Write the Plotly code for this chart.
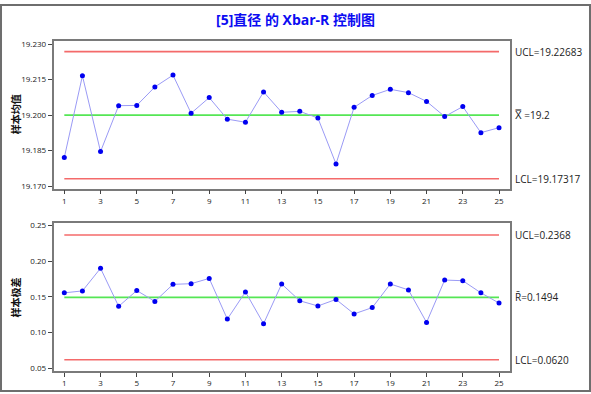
import plotly.graph_objects as go

# ---- data ----
samples = list(range(1, 26))
xbar_values = [19.1821, 19.2166, 19.1846, 19.2040, 19.2041, 19.2119, 19.2169, 19.2008,
               19.2074, 19.1983, 19.1970, 19.2098, 19.2012, 19.2016, 19.1988, 19.1794,
               19.2033, 19.2083, 19.2109, 19.2095, 19.2058, 19.1994, 19.2036, 19.1926,
               19.1947]
range_values = [0.1558, 0.1585, 0.1902, 0.1369, 0.1590, 0.1438, 0.1677, 0.1686,
                0.1760, 0.1190, 0.1571, 0.1125, 0.1682, 0.1447, 0.1374, 0.1466,
                0.1263, 0.1351, 0.1682, 0.1599, 0.1144, 0.1737, 0.1728, 0.1558,
                0.1415]
xbar_limits = {"UCL": 19.22683, "CL": 19.2, "LCL": 19.17317}
range_limits = {"UCL": 0.2368, "CL": 0.1494, "LCL": 0.0620}
x_ticks = list(range(1, 26, 2))
xbar_yticks = [19.170, 19.185, 19.200, 19.215, 19.230]
range_yticks = [0.05, 0.10, 0.15, 0.20, 0.25]
title_text = "[5]直径 的 Xbar-R 控制图"

W, H = 591, 394
FONT = "Open Sans, Noto Sans CJK SC, sans-serif"
RED = "#F46A6A"
GREEN = "#55E655"
LINE_BLUE = "#9A9AF5"
DOT_BLUE = "#0000F0"
FRAME = "#7A7A7A"

fig = go.Figure()

def add_chart(values, limits, xa, ya):
    x0, x1 = samples[0], samples[-1]
    fig.add_trace(go.Scatter(x=[x0, x1], y=[limits["UCL"]] * 2, mode="lines",
                             line=dict(color=RED, width=1.6), xaxis=xa, yaxis=ya,
                             hoverinfo="skip"))
    fig.add_trace(go.Scatter(x=[x0, x1], y=[limits["LCL"]] * 2, mode="lines",
                             line=dict(color=RED, width=1.6), xaxis=xa, yaxis=ya,
                             hoverinfo="skip"))
    fig.add_trace(go.Scatter(x=[x0, x1], y=[limits["CL"]] * 2, mode="lines",
                             line=dict(color=GREEN, width=1.8), xaxis=xa, yaxis=ya,
                             hoverinfo="skip"))
    fig.add_trace(go.Scatter(x=samples, y=values, mode="lines+markers",
                             line=dict(color=LINE_BLUE, width=1),
                             marker=dict(color=DOT_BLUE, size=5),
                             xaxis=xa, yaxis=ya))

add_chart(xbar_values, xbar_limits, "x", "y")
add_chart(range_values, range_limits, "x2", "y2")

xdom = [53.5 / W, 510 / W]
top_dom = [(H - 187.5) / H, (H - 37.7) / H]
bot_dom = [(H - 372.7) / H, (H - 222.7) / H]

axis_common = dict(showgrid=False, zeroline=False, showline=True, mirror=True,
                   linecolor=FRAME, linewidth=1.5, ticks="outside", ticklen=4,
                   tickcolor="#444", tickwidth=1,
                   tickfont=dict(family=FONT, size=8, color="#1a1a1a"))

fig.update_layout(
    width=W, height=H,
    margin=dict(l=0, r=0, t=0, b=0),
    paper_bgcolor="white", plot_bgcolor="white",
    showlegend=False,
    xaxis=dict(domain=xdom, range=[0.403, 25.607], tickvals=x_ticks,
               anchor="y", **axis_common),
    yaxis=dict(domain=top_dom, range=[19.16896, 19.23125], tickvals=xbar_yticks,
               tickformat=".3f", anchor="x", **axis_common),
    xaxis2=dict(domain=xdom, range=[0.403, 25.607], tickvals=x_ticks,
                anchor="y2", **axis_common),
    yaxis2=dict(domain=bot_dom, range=[0.04628, 0.2532], tickvals=range_yticks,
                tickformat=".2f", anchor="x2", **axis_common),
)

ann = []
ann.append(dict(text="<b>" + title_text + "</b>", x=295.5 / W, y=(H - 16) / H,
                xref="paper", yref="paper", showarrow=False,
                font=dict(family=FONT, size=14, color="#0C0CF2"),
                xanchor="center", yanchor="middle"))
ann.append(dict(text="<b>样本均值</b>", x=16 / W, y=(H - 112) / H, xref="paper",
                yref="paper", showarrow=False, textangle=-90,
                font=dict(family=FONT, size=10, color="#111"),
                xanchor="center", yanchor="middle"))
ann.append(dict(text="<b>样本极差</b>", x=16 / W, y=(H - 298) / H, xref="paper",
                yref="paper", showarrow=False, textangle=-90,
                font=dict(family=FONT, size=10, color="#111"),
                xanchor="center", yanchor="middle"))

right_x = 513 / W
lab_font = dict(family=FONT, size=10, color="#222")
for txt, yv in [("UCL=19.22683", xbar_limits["UCL"]),
                ("X\u033F =19.2", xbar_limits["CL"]),
                ("LCL=19.17317", xbar_limits["LCL"])]:
    ann.append(dict(text=txt, x=right_x, y=yv, xref="paper", yref="y",
                    showarrow=False, xanchor="left", yanchor="middle", font=lab_font))
for txt, yv in [("UCL=0.2368", range_limits["UCL"]),
                ("R\u0304=0.1494", range_limits["CL"]),
                ("LCL=0.0620", range_limits["LCL"])]:
    ann.append(dict(text=txt, x=right_x, y=yv, xref="paper", yref="y2",
                    showarrow=False, xanchor="left", yanchor="middle", font=lab_font))
fig.update_layout(annotations=ann)

fig.add_shape(type="rect", xref="paper", yref="paper", x0=0.0017, x1=0.9983,
              y0=0.0025, y1=0.9975, line=dict(color="#6E6E6E", width=2))

fig.write_html("out.html", config={"displayModeBar": False},
               post_script="document.body.style.margin='0';document.body.style.overflow='hidden';")
